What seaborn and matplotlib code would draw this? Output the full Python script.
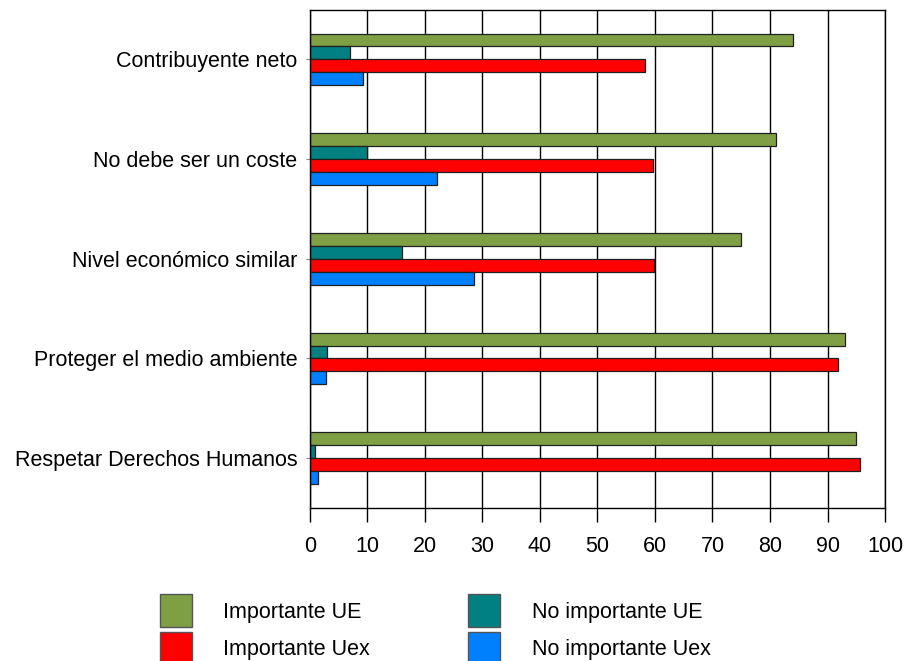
import matplotlib
matplotlib.use('Agg')
import matplotlib.pyplot as plt
import matplotlib.patches as patches
import pandas as pd
import seaborn as sns

# data
categories = ['Contribuyente neto', 'No debe ser un coste', 'Nivel económico similar',
              'Proteger el medio ambiente', 'Respetar Derechos Humanos']
series = ['Importante UE', 'No importante UE', 'Importante Uex', 'No importante Uex']
importante_ue = [84, 81, 75, 93, 95]
no_importante_ue = [7, 10, 16, 3, 1]
importante_uex = [58.2, 59.6, 59.8, 91.9, 95.6]
no_importante_uex = [9.3, 22.2, 28.6, 2.8, 1.5]
colors = ['#7F9F45', '#008080', '#FF0000', '#0080FF']
xticks = [0, 10, 20, 30, 40, 50, 60, 70, 80, 90, 100]

rows = []
for name, vals in zip(series, [importante_ue, no_importante_ue, importante_uex, no_importante_uex]):
    for c, v in zip(categories, vals):
        rows.append(dict(categoria=c, serie=name, valor=v))
df = pd.DataFrame(rows)

sns.set_style('white')
plt.rcParams['font.family'] = ['Liberation Sans', 'DejaVu Sans']
plt.rcParams['text.color'] = 'black'
plt.rcParams['xtick.color'] = 'black'
plt.rcParams['ytick.color'] = 'black'

fs = 15.5
fig = plt.figure(figsize=(9.11, 6.61), dpi=100)
ax = fig.add_axes([0.340, 0.2315, 0.6315, 0.754])
sns.barplot(data=df, y='categoria', x='valor', hue='serie', order=categories,
            hue_order=series, palette=colors, orient='h', width=0.52,
            edgecolor='#202020', linewidth=0.9, saturation=1, ax=ax, legend=False)

ax.set_xlim(0, 100)
ax.set_ylim(len(categories) - 0.5, -0.5)
ax.set_xticks(xticks)
ax.set_xticklabels([str(t) for t in xticks], fontsize=fs)
ax.tick_params(axis='x', length=10, width=1, color='black', pad=10, direction='out', bottom=True)
ax.tick_params(axis='y', length=3, width=0.8, color='#888888', labelsize=fs, pad=6, left=True)
ax.set_xlabel('')
ax.set_ylabel('')
ax.grid(axis='x', color='black', linewidth=1)
ax.set_axisbelow(True)
for s in ['top', 'bottom', 'left', 'right']:
    ax.spines[s].set_visible(True)
    ax.spines[s].set_color('black')
    ax.spines[s].set_linewidth(1)

# legend below the chart
handles = [patches.Patch(facecolor=colors[i], edgecolor='#555555', label=series[i]) for i in [0, 2, 1, 3]]
fig.legend(handles=handles, loc='upper left', bbox_to_anchor=(0.1756, 0.101), ncol=2,
           frameon=False, fontsize=fs, handlelength=1.5, handleheight=2.0,
           handletextpad=1.45, columnspacing=4.55, labelspacing=0.2, borderaxespad=0,
           borderpad=0)

plt.savefig('out.png', dpi=100)
